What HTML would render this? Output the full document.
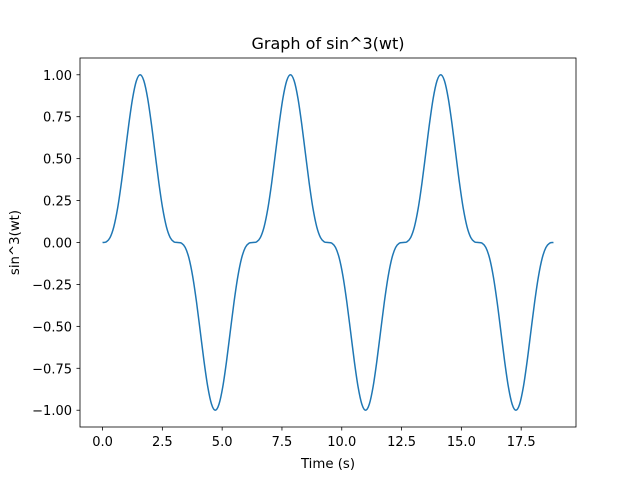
<!DOCTYPE html>
<html><head><meta charset="utf-8"><style>
body{margin:0;background:#fff;}
svg{font-family:"DejaVu Sans","Liberation Sans",sans-serif;}
</style></head><body>
<svg id="chart" width="640" height="480" xmlns="http://www.w3.org/2000/svg">
<rect width="640" height="480" fill="#fff"/>
<text x="328" y="49" font-size="16" text-anchor="middle">Graph of sin^3(wt)</text>
<text x="328" y="468" font-size="13.3" text-anchor="middle">Time (s)</text>
<text transform="translate(19,242.5) rotate(-90)" font-size="13.3" text-anchor="middle">sin^3(wt)</text>
<g id="ticks"></g>
<path id="line" fill="none" stroke="#1f77b4" stroke-width="1.5" stroke-linejoin="round"/>
<rect x="80" y="58" width="496" height="369" fill="none" stroke="#000" stroke-width="0.8"/>
</svg>
<script>
const xTicks = [0, 2.5, 5, 7.5, 10, 12.5, 15, 17.5];
const xTickLabels = ["0.0","2.5","5.0","7.5","10.0","12.5","15.0","17.5"];
const yTicks = [-1, -0.75, -0.5, -0.25, 0, 0.25, 0.5, 0.75, 1];
const yTickLabels = ["−1.00","−0.75","−0.50","−0.25","0.00","0.25","0.50","0.75","1.00"];
const tStep = 0.15708;
const halfUp = [0,0.00383,0.0295,0.09357,0.2031,0.3536,0.5295,0.7074,0.8602,0.9635,1,0.9635,0.8602,0.7074,0.5295,0.3536,0.2031,0.09357,0.0295,0.00383];
const halfDown = [0,-0.00383,-0.0295,-0.09357,-0.2031,-0.3536,-0.5295,-0.7074,-0.8602,-0.9635,-1,-0.9635,-0.8602,-0.7074,-0.5295,-0.3536,-0.2031,-0.09357,-0.0295,-0.00383];
const yValues = [...halfUp,...halfDown,...halfUp,...halfDown,...halfUp,...halfDown,0];

const xMin=-0.9425, xMax=19.792, yMin=-1.1, yMax=1.1;
const L=80,R=576,T=58,B=427;
const sx=v=>L+(v-xMin)/(xMax-xMin)*(R-L);
const sy=v=>B-(v-yMin)/(yMax-yMin)*(B-T);
const NS="http://www.w3.org/2000/svg";
const g=document.getElementById('ticks');
function mk(tag,attrs){const e=document.createElementNS(NS,tag);for(const k in attrs)e.setAttribute(k,attrs[k]);return e;}
xTicks.forEach((v,i)=>{
  const x=sx(v);
  const l=mk('line',{x1:x,x2:x,y1:B,y2:B+3.5,stroke:'#000','stroke-width':0.8});
  
  
  g.appendChild(l);
  const t=mk('text',{x:x,y:B+19,'font-size':13,'text-anchor':'middle'});
  
  
  t.textContent=xTickLabels[i];g.appendChild(t);
});
yTicks.forEach((v,i)=>{
  const y=sy(v);
  const l=mk('line',{x1:L-3.5,x2:L,y1:y,y2:y,stroke:'#000','stroke-width':0.8});
  
  
  g.appendChild(l);
  const t=mk('text',{x:L-8,y:y+5,'font-size':13,'text-anchor':'end'});
  
  
  t.textContent=yTickLabels[i];g.appendChild(t);
});
const pts=yValues.map((v,i)=>[sx(i*tStep),sy(v)]);
let d='M'+pts[0][0].toFixed(2)+','+pts[0][1].toFixed(2);
for(let i=0;i<pts.length-1;i++){
  const p0=pts[Math.max(i-1,0)],p1=pts[i],p2=pts[i+1],p3=pts[Math.min(i+2,pts.length-1)];
  const c1=[p1[0]+(p2[0]-p0[0])/6,p1[1]+(p2[1]-p0[1])/6];
  const c2=[p2[0]-(p3[0]-p1[0])/6,p2[1]-(p3[1]-p1[1])/6];
  d+=' C'+c1.map(n=>n.toFixed(2)).join(',')+' '+c2.map(n=>n.toFixed(2)).join(',')+' '+p2.map(n=>n.toFixed(2)).join(',');
}
document.getElementById('line').setAttribute('d',d);
</script>
</body></html>
